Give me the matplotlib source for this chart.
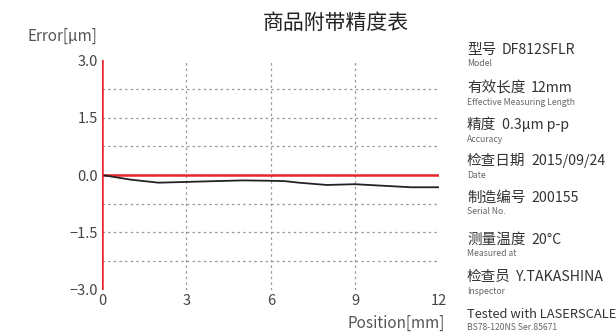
import matplotlib
matplotlib.use('Agg')
import matplotlib.pyplot as plt
import numpy as np

plt.rcParams['font.family'] = ['Noto Sans CJK SC', 'DejaVu Sans']

# measured error curve
position = [0, 1, 2, 3, 4, 5, 6, 6.5, 7, 8, 9, 10, 11, 12]
error = [0.0, -0.12, -0.2, -0.18, -0.16, -0.14, -0.15, -0.16, -0.2, -0.26, -0.24, -0.28, -0.32, -0.32]

xticks = [0, 3, 6, 9, 12]
yticks = [-3.0, -1.5, 0.0, 1.5, 3.0]
ygrid = [-2.25, -1.5, -0.75, 0.75, 1.5, 2.25]
xgrid = [3, 6, 9]

info_label = ['型号', '有效长度', '精度', '检查日期', '制造编号', '测量温度', '检查员', '']
info_value = ['DF812SFLR', '12mm', '0.3µm p-p', '2015/09/24', '200155', '20°C',
              'Y.TAKASHINA', 'Tested with LASERSCALE']
info_en = ['Model', 'Effective Measuring Length', 'Accuracy', 'Date',
           'Serial No.', 'Measured at', 'Inspector', 'BS78-120NS Ser.85671']
info_y = [50, 88, 125, 161, 198, 240, 277, 314]

fig = plt.figure(figsize=(6.16, 3.34), dpi=100)
ax = fig.add_axes([0.166, 0.132, 0.547, 0.688])

for g in ygrid:
    ax.axhline(g, color='#999999', lw=0.9, ls=(0, (2, 2.5)), zorder=1)
for g in xgrid:
    ax.axvline(g, color='#999999', lw=0.9, ls=(0, (2, 2.5)), zorder=1)

ax.plot(position, error, color='#222222', lw=1.3, zorder=3)
ax.axhline(0, color='#e8242c', lw=1.8, zorder=2)
ax.axvline(0, color='#e8242c', lw=1.8, zorder=4)

ax.set_xlim(0, 12)
ax.set_ylim(-3.0, 3.0)
ax.set_xticks(xticks)
ax.set_yticks(yticks)
ax.set_yticklabels(['\u22123.0', '\u22121.5', '0.0', '1.5', '3.0'])
ax.tick_params(length=0, labelsize=10.5, colors='#444444', pad=3)
for s in ax.spines.values():
    s.set_visible(False)

fig.text(0.545, 0.932, '商品附带精度表', ha='center', va='center', fontsize=15, color='#222222')
fig.text(0.045, 0.892, 'Error[µm]', ha='left', va='center', fontsize=11, color='#555555')
fig.text(0.722, 0.033, 'Position[mm]', ha='right', va='center', fontsize=11, color='#555555')

# info panel on the right
x0 = 467 / 616
for lab, val, en, y in zip(info_label, info_value, info_en, info_y):
    if lab:
        t = fig.text(x0, 1 - y / 334, lab, ha='left', va='center', fontsize=10.5, color='#333333')
        ax.annotate(val, xy=(1, 0.5), xycoords=t, xytext=(4, 0), textcoords='offset points',
                    ha='left', va='center', fontsize=10.2, color='#333333', annotation_clip=False)
    else:
        fig.text(x0, 1 - y / 334, val, ha='left', va='center', fontsize=9.3, color='#333333')
    fig.text(x0, 1 - (y + 14) / 334, en, ha='left', va='center', fontsize=6.2, color='#666666')

fig.savefig('out.png', dpi=100)
